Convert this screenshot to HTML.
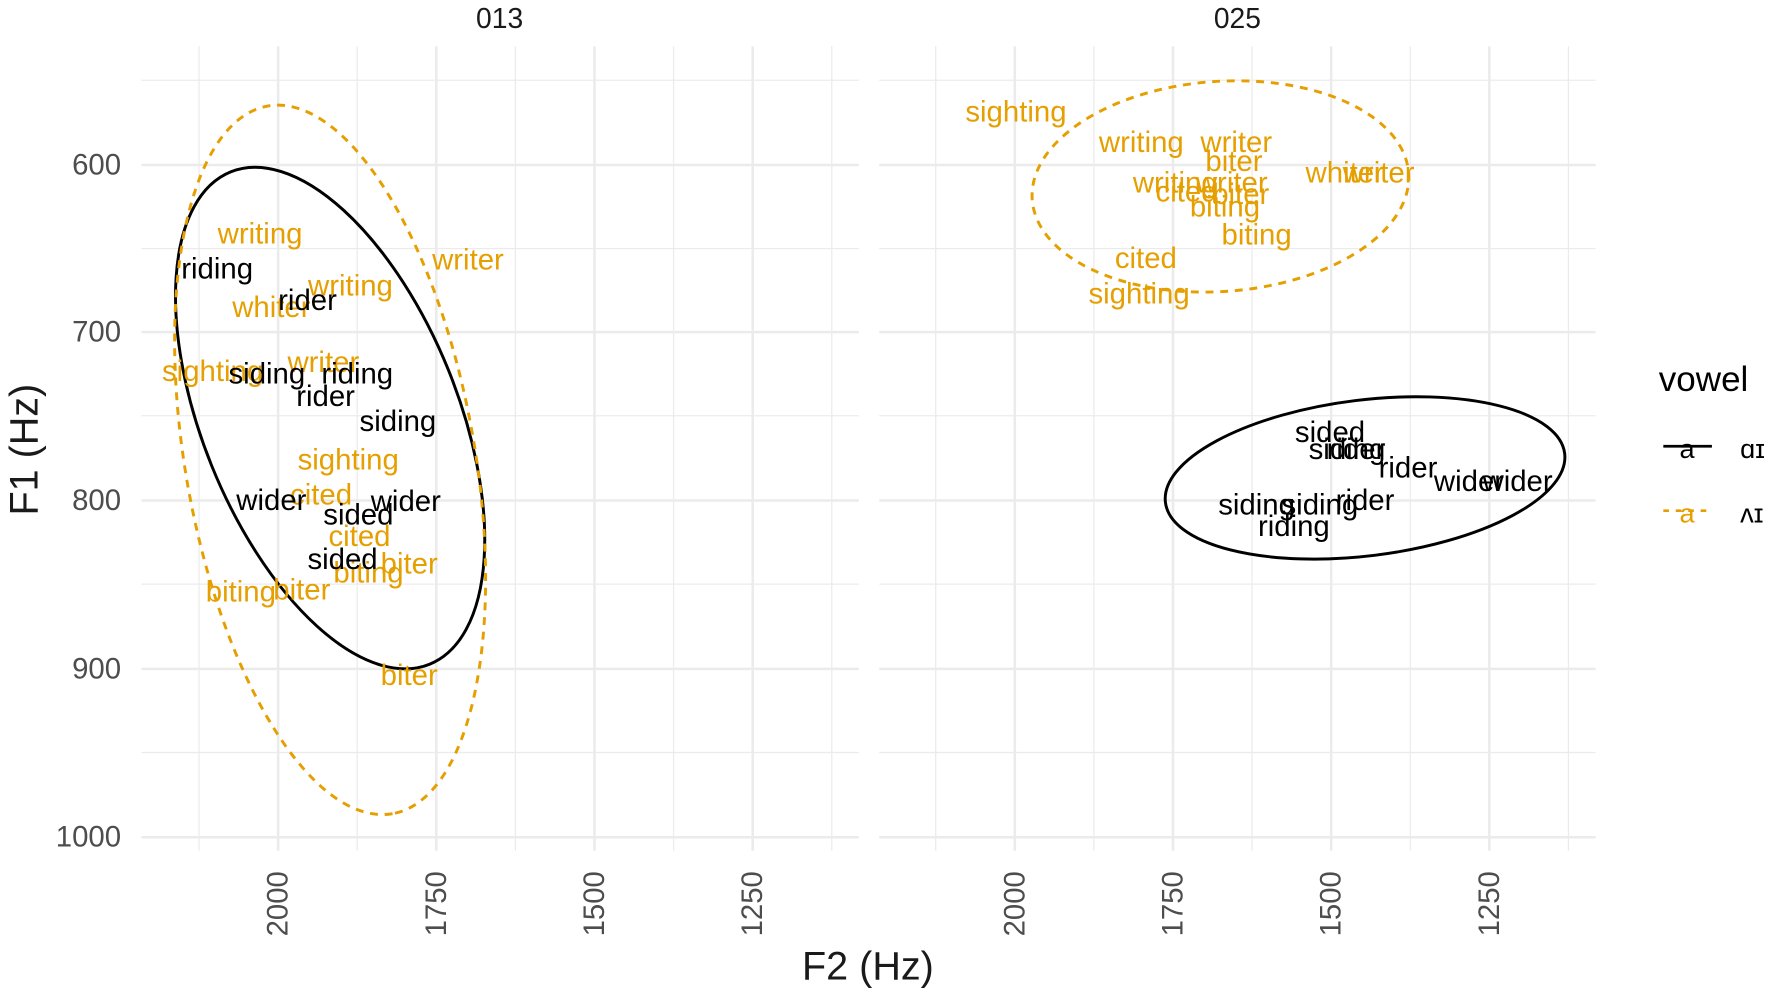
<!DOCTYPE html>
<html><head><meta charset="utf-8"><style>
html,body{margin:0;padding:0;background:#fff;}
svg{display:block;}
text{font-family:"Liberation Sans",Arial,sans-serif;}
</style></head><body>
<svg width="1772" height="992" viewBox="0 0 1568 878" xmlns="http://www.w3.org/2000/svg">
<rect width="1568" height="878" fill="#fff"/>
<g stroke="#ebebeb" fill="none">
  <g stroke-width="1.1">
    <line x1="125" x2="760" y1="71" y2="71"/><line x1="125" x2="760" y1="220" y2="220"/>
    <line x1="125" x2="760" y1="368" y2="368"/><line x1="125" x2="760" y1="517" y2="517"/>
    <line x1="125" x2="760" y1="666" y2="666"/>
    <line x1="176" x2="176" y1="41" y2="753"/><line x1="316" x2="316" y1="41" y2="753"/>
    <line x1="456" x2="456" y1="41" y2="753"/><line x1="596" x2="596" y1="41" y2="753"/>
    <line x1="736" x2="736" y1="41" y2="753"/>
    <line x1="778" x2="1412" y1="71" y2="71"/><line x1="778" x2="1412" y1="220" y2="220"/>
    <line x1="778" x2="1412" y1="368" y2="368"/><line x1="778" x2="1412" y1="517" y2="517"/>
    <line x1="778" x2="1412" y1="666" y2="666"/>
    <line x1="828" x2="828" y1="41" y2="753"/><line x1="968" x2="968" y1="41" y2="753"/>
    <line x1="1108" x2="1108" y1="41" y2="753"/><line x1="1248" x2="1248" y1="41" y2="753"/>
    <line x1="1388" x2="1388" y1="41" y2="753"/>
  </g>
  <g stroke-width="2.2">
    <line x1="125" x2="760" y1="146" y2="146"/><line x1="125" x2="760" y1="294" y2="294"/>
    <line x1="125" x2="760" y1="443" y2="443"/><line x1="125" x2="760" y1="592" y2="592"/>
    <line x1="125" x2="760" y1="741" y2="741"/>
    <line x1="246" x2="246" y1="41" y2="753"/><line x1="386" x2="386" y1="41" y2="753"/>
    <line x1="526" x2="526" y1="41" y2="753"/><line x1="666" x2="666" y1="41" y2="753"/>
    <line x1="778" x2="1412" y1="146" y2="146"/><line x1="778" x2="1412" y1="294" y2="294"/>
    <line x1="778" x2="1412" y1="443" y2="443"/><line x1="778" x2="1412" y1="592" y2="592"/>
    <line x1="778" x2="1412" y1="741" y2="741"/>
    <line x1="898" x2="898" y1="41" y2="753"/><line x1="1038" x2="1038" y1="41" y2="753"/>
    <line x1="1178" x2="1178" y1="41" y2="753"/><line x1="1318" x2="1318" y1="41" y2="753"/>
  </g>
</g>
<text x="442" y="25" font-size="25" fill="#1a1a1a" text-anchor="middle">013</text>
<text x="1095" y="25" font-size="25" fill="#1a1a1a" text-anchor="middle">025</text>
<g font-size="26" fill="#4d4d4d" text-anchor="end" dominant-baseline="central">
<text x="107" y="146">600</text><text x="107" y="294">700</text><text x="107" y="443">800</text>
<text x="107" y="592">900</text><text x="107" y="741">1000</text>
</g>
<g font-size="26" fill="#4d4d4d" text-anchor="end" dominant-baseline="central">
<text transform="translate(246,771) rotate(-90)">2000</text>
<text transform="translate(386,771) rotate(-90)">1750</text>
<text transform="translate(526,771) rotate(-90)">1500</text>
<text transform="translate(666,771) rotate(-90)">1250</text>
<text transform="translate(898,771) rotate(-90)">2000</text>
<text transform="translate(1038,771) rotate(-90)">1750</text>
<text transform="translate(1178,771) rotate(-90)">1500</text>
<text transform="translate(1318,771) rotate(-90)">1250</text>
</g>
<text x="768" y="867" font-size="35" fill="#1a1a1a" text-anchor="middle">F2 (Hz)</text>
<text transform="translate(33,398) rotate(-90)" font-size="35" fill="#1a1a1a" text-anchor="middle">F1 (Hz)</text>
<g fill="none" stroke-width="2.6">
<ellipse cx="292" cy="370" rx="235" ry="113" transform="rotate(68 292 370)" stroke="#000"/>
<ellipse cx="292" cy="407" rx="318" ry="128" transform="rotate(80 292 407)" stroke="#E69F00" stroke-dasharray="7 6"/>
<ellipse cx="1080" cy="165" rx="167" ry="93" transform="rotate(-4 1080 165)" stroke="#E69F00" stroke-dasharray="7 6"/>
<ellipse cx="1208" cy="423" rx="178" ry="69" transform="rotate(-7 1208 423)" stroke="#000"/>
</g>
<g font-size="26" text-anchor="middle" dominant-baseline="central">
<g fill="#E69F00">
<text x="230" y="207">writing</text><text x="310" y="253">writing</text><text x="240" y="272">whiter</text>
<text x="414" y="230">writer</text><text x="188" y="329">sighting</text><text x="286" y="321">writer</text>
<text x="308" y="407">sighting</text><text x="284" y="438">cited</text><text x="318" y="475">cited</text>
<text x="362" y="499">biter</text><text x="326" y="507">biting</text><text x="213" y="524">biting</text>
<text x="267" y="522">biter</text><text x="362" y="598">biter</text>
<text x="899" y="99">sighting</text><text x="1010" y="126">writing</text><text x="1094" y="126">writer</text>
<text x="1092" y="143">biter</text><text x="1040" y="162">writing</text><text x="1090" y="162">writer</text>
<text x="1050" y="170">cited</text><text x="1098" y="172">biter</text><text x="1084" y="183">biting</text>
<text x="1190" y="153">whiter</text><text x="1220" y="153">writer</text><text x="1112" y="208">biting</text>
<text x="1014" y="229">cited</text><text x="1008" y="260">sighting</text>
</g>
<g fill="#000">
<text x="192" y="238">riding</text><text x="272" y="266">rider</text><text x="236" y="331">siding</text>
<text x="316" y="331">riding</text><text x="288" y="351">rider</text><text x="352" y="373">siding</text>
<text x="240" y="443">wider</text><text x="359" y="444">wider</text><text x="317" y="456">sided</text>
<text x="303" y="495">sided</text>
<text x="1177" y="383">sided</text><text x="1192" y="398">siding</text><text x="1200" y="398">rider</text>
<text x="1246" y="414">rider</text><text x="1300" y="426">wider</text><text x="1343" y="426">wider</text>
<text x="1112" y="447">siding</text><text x="1168" y="447">siding</text><text x="1208" y="443">rider</text>
<text x="1145" y="466">riding</text>
</g>
</g>
<text x="1468" y="346" font-size="31" fill="#000">vowel</text>
<line x1="1472" x2="1515" y1="395" y2="395" stroke="#000" stroke-width="2.4"/>
<text x="1493" y="397" font-size="24" fill="#000" text-anchor="middle" dominant-baseline="central">a</text>
<text x="1540" y="397" font-size="24" fill="#000" dominant-baseline="central">ɑɪ</text>
<line x1="1472" x2="1515" y1="452" y2="452" stroke="#E69F00" stroke-width="2.4" stroke-dasharray="5 6"/>
<text x="1493" y="454" font-size="24" fill="#E69F00" text-anchor="middle" dominant-baseline="central">a</text>
<text x="1540" y="454" font-size="24" fill="#000" dominant-baseline="central">ʌɪ</text>
</svg>
</body></html>
